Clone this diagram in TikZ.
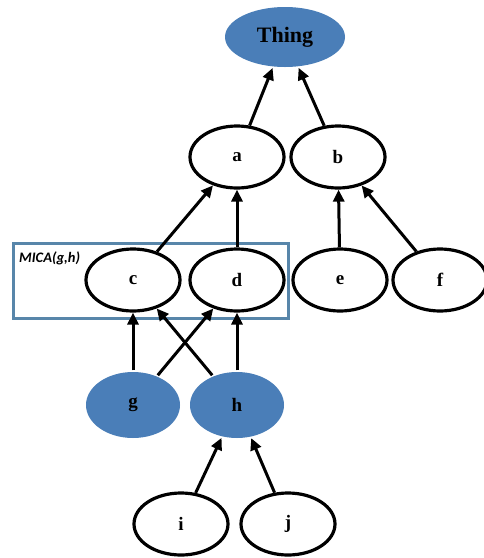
\documentclass[tikz,border=0pt]{standalone}
\usepackage{fontspec}
\setmainfont{Liberation Serif}
\newfontfamily\labelfont{Carlito}
\usetikzlibrary{shapes.geometric,arrows.meta}
\definecolor{conceptblue}{RGB}{74,126,184}
\definecolor{framecol}{RGB}{88,134,170}
\tikzset{
  concept/.style={ellipse, draw=black, line width=3.2pt, fill=white,
    minimum width=94pt, minimum height=62pt, inner sep=0pt,
    font=\bfseries\fontsize{19}{19}\selectfont},
  queried/.style={concept, draw=none, fill=conceptblue},
  isa/.style={line width=3pt, -{Triangle[length=12pt,width=11pt]}},
}
\begin{document}
\begin{tikzpicture}[x=1pt, y=-1pt]
  \fill[white] (0,0) rectangle (484,558);
  \useasboundingbox (0,0) rectangle (484,558);

  % frame marking the most informative common ancestors of g and h
  \node[draw=framecol, line width=3pt, minimum width=275pt, minimum height=75pt,
        inner sep=0pt] (mica) at (150.5,280.5) {};
  \node[font=\labelfont\bfseries\itshape\fontsize{14.5}{14.5}\selectfont, anchor=west,
        inner sep=0pt] (micalabel) at (19,258) {MICA(g,h)};

  % concepts
  \node[queried, minimum width=120pt, minimum height=60pt,
        font=\bfseries\fontsize{22}{22}\selectfont] (thing) at (285,37) {Thing};
  \node[concept] (a) at (237,157) {a};
  \node[concept] (b) at (338,157) {b};
  \node[concept] (c) at (133,280) {c};
  \node[concept] (d) at (237,280) {d};
  \node[concept] (e) at (340,280) {e};
  \node[concept] (f) at (440,280) {f};
  \node[queried, minimum height=66pt] (g) at (133,405) {g};
  \node[queried, minimum height=66pt] (h) at (237,405) {h};
  \node[concept] (i) at (181,524) {i};
  \node[concept] (j) at (288,524) {j};

  % subsumption links
  \draw[isa] (a) -- (thing);
  \draw[isa] (b) -- (thing);
  \draw[isa] (c) -- (a);
  \draw[isa] (d) -- (a);
  \draw[isa] (e) -- (b);
  \draw[isa] (f) -- (b);
  \draw[isa] (g) -- (c);
  \draw[isa] (g) -- (d);
  \draw[isa] (h) -- (c);
  \draw[isa] (h) -- (d);
  \draw[isa] (i) -- (h);
  \draw[isa] (j) -- (h);
\end{tikzpicture}
\end{document}
